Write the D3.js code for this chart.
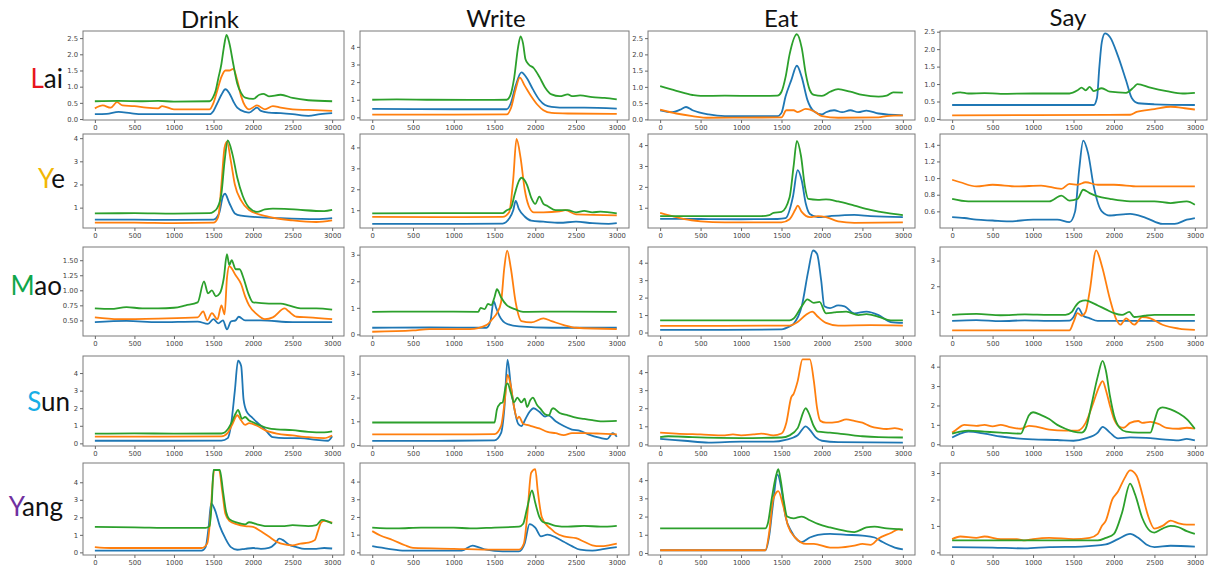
<!DOCTYPE html>
<html>
<head>
<meta charset="utf-8">
<script src="https://cdn.jsdelivr.net/npm/d3@7"></script>
<style>
  body { margin: 0; background: #fff; }
  .tick text { font-family: "DejaVu Sans", sans-serif; font-size: 6.8px; fill: #444; }
  .tick line { stroke: #666; }
  .title { font-family: Lato, "Open Sans", sans-serif; fill: #111; }
</style>
</head>
<body>
<div id="chart"></div>
<script>
const actions = ["Drink", "Write", "Eat", "Say"];
const subjects = ["Lai", "Ye", "Mao", "Sun", "Yang"];
const subjectColors = ["#e8141c", "#f2b705", "#10a64a", "#17aee6", "#7030a0"];
const xTicks = [0, 500, 1000, 1500, 2000, 2500, 3000];
const colors = { blue: "#1f77b4", orange: "#ff7f0e", green: "#2ca02c" };

// ---- Lai ----
const laiDrinkBlue = [[0,0.15],[150,0.16],[300,0.22],[450,0.18],[600,0.15],[1000,0.15],[1450,0.15],[1500,0.25],[1550,0.5],[1600,0.75],[1650,0.92],[1700,0.8],[1750,0.55],[1800,0.35],[1900,0.22],[1950,0.2],[2050,0.35],[2100,0.25],[2200,0.2],[2350,0.18],[2500,0.15],[2700,0.1],[2850,0.15],[3000,0.18]];
const laiDrinkOrange = [[0,0.33],[100,0.42],[200,0.35],[280,0.52],[350,0.42],[500,0.4],[650,0.35],[800,0.33],[850,0.4],[1000,0.3],[1200,0.3],[1450,0.3],[1500,0.5],[1550,0.9],[1600,1.3],[1650,1.5],[1700,1.5],[1750,1.55],[1800,1.2],[1850,0.7],[1900,0.4],[1950,0.3],[2050,0.42],[2150,0.3],[2250,0.4],[2350,0.35],[2500,0.3],[2700,0.28],[3000,0.25]];
const laiDrinkGreen = [[0,0.55],[300,0.56],[600,0.55],[800,0.56],[1000,0.54],[1450,0.55],[1500,0.7],[1530,0.9],[1560,1.25],[1600,1.7],[1630,2.2],[1665,2.6],[1700,2.35],[1750,1.7],[1800,1.1],[1850,0.8],[1900,0.66],[2000,0.62],[2080,0.75],[2130,0.78],[2200,0.7],[2350,0.75],[2500,0.65],[2700,0.58],[3000,0.55]];

const laiWriteBlue = [[0,0.48],[500,0.47],[1000,0.46],[1650,0.46],[1700,0.8],[1760,1.8],[1830,2.55],[1900,2.2],[1970,1.6],[2050,1.0],[2120,0.7],[2200,0.6],[2400,0.55],[2600,0.55],[3000,0.5]];
const laiWriteOrange = [[0,0.15],[1000,0.16],[1650,0.17],[1700,0.5],[1760,1.6],[1810,2.25],[1870,1.8],[1950,1.2],[2030,0.7],[2100,0.4],[2200,0.25],[2400,0.22],[3000,0.2]];
const laiWriteGreen = [[0,1.0],[300,1.02],[700,1.0],[1200,0.99],[1650,1.0],[1690,1.2],[1740,2.2],[1790,4.0],[1820,4.6],[1850,4.2],[1880,3.3],[1920,3.0],[1980,2.8],[2050,2.3],[2120,1.7],[2200,1.3],[2300,1.2],[2400,1.3],[2450,1.2],[2550,1.25],[2700,1.15],[2850,1.1],[3000,1.02]];

const laiEatBlue = [[0,0.28],[150,0.22],[250,0.3],[320,0.38],[400,0.28],[600,0.15],[800,0.1],[1450,0.1],[1500,0.2],[1550,0.7],[1620,1.2],[1690,1.65],[1750,1.3],[1820,0.6],[1900,0.25],[2000,0.15],[2050,0.22],[2150,0.28],[2250,0.22],[2350,0.28],[2450,0.22],[2550,0.27],[2700,0.18],[3000,0.12]];
const laiEatOrange = [[0,0.3],[200,0.18],[400,0.1],[600,0.05],[1500,0.06],[1560,0.28],[1650,0.28],[1700,0.22],[1800,0.32],[1900,0.25],[2000,0.1],[2200,0.05],[2700,0.06],[2800,0.1],[3000,0.12]];
const laiEatGreen = [[0,1.02],[200,0.88],[400,0.75],[500,0.72],[800,0.73],[1200,0.72],[1450,0.73],[1500,0.85],[1550,1.3],[1600,2.0],[1690,2.62],[1750,2.2],[1800,1.4],[1850,0.9],[1900,0.75],[2000,0.72],[2100,0.85],[2200,0.93],[2350,0.85],[2500,0.75],[2700,0.7],[2800,0.73],[2880,0.83],[3000,0.82]];

const laiSayBlue = [[0,0.4],[1000,0.4],[1750,0.4],[1790,0.6],[1820,1.5],[1850,2.2],[1890,2.45],[1950,2.35],[2050,1.8],[2150,1.1],[2220,0.6],[2300,0.45],[2500,0.42],[3000,0.4]];
const laiSayOrange = [[0,0.1],[1000,0.11],[2200,0.12],[2280,0.2],[2500,0.28],[2700,0.35],[2900,0.3],[3000,0.27]];
const laiSayGreen = [[0,0.72],[100,0.76],[200,0.73],[400,0.74],[600,0.72],[1000,0.73],[1450,0.73],[1550,0.82],[1600,0.9],[1650,0.82],[1700,0.92],[1750,0.8],[1850,0.88],[1950,0.78],[2150,0.75],[2250,0.92],[2290,1.0],[2450,0.9],[2650,0.8],[2850,0.73],[3000,0.75]];

// ---- Ye ----
const yeDrinkBlue = [[0,0.48],[500,0.48],[1000,0.47],[1500,0.48],[1570,0.75],[1620,1.5],[1645,1.6],[1700,1.2],[1770,0.75],[1850,0.65],[2000,0.6],[2300,0.55],[2800,0.5],[3000,0.55]];
const yeDrinkOrange = [[0,0.35],[500,0.35],[1000,0.33],[1500,0.35],[1560,0.6],[1600,2.0],[1640,3.6],[1670,3.85],[1720,3.0],[1770,2.0],[1850,1.3],[1950,0.9],[2200,0.6],[2500,0.45],[2800,0.38],[3000,0.45]];
const yeDrinkGreen = [[0,0.75],[500,0.76],[1000,0.74],[1450,0.76],[1500,0.82],[1550,1.0],[1600,1.6],[1640,3.0],[1680,3.9],[1740,3.3],[1800,2.3],[1870,1.5],[1950,1.0],[2050,0.82],[2150,0.92],[2250,0.96],[2400,0.95],[2600,0.9],[2900,0.85],[3000,0.9]];

const yeWriteBlue = [[0,0.35],[800,0.35],[1600,0.36],[1680,0.6],[1730,1.0],[1760,1.45],[1800,1.05],[1870,0.7],[1950,0.5],[2100,0.45],[2300,0.4],[2500,0.45],[2700,0.38],[2900,0.35],[3000,0.38]];
const yeWriteOrange = [[0,0.68],[800,0.67],[1600,0.68],[1680,0.9],[1730,2.5],[1770,4.4],[1820,3.5],[1870,2.0],[1920,1.2],[1980,0.9],[2100,0.9],[2300,0.95],[2370,1.0],[2500,0.8],[3000,0.75]];
const yeWriteGreen = [[0,0.85],[800,0.86],[1600,0.86],[1650,1.0],[1700,1.1],[1750,1.8],[1800,2.4],[1830,2.55],[1900,2.2],[1950,1.6],[2000,1.3],[2050,1.65],[2100,1.3],[2150,1.2],[2250,1.0],[2400,1.0],[2500,0.9],[2600,0.97],[2700,0.9],[2800,0.93],[3000,0.85]];

const yeEatBlue = [[0,0.47],[500,0.46],[1000,0.45],[1450,0.46],[1550,0.5],[1640,1.5],[1700,2.8],[1750,2.3],[1800,1.2],[1850,0.7],[1950,0.55],[2100,0.6],[2400,0.66],[2600,0.6],[3000,0.55]];
const yeEatOrange = [[0,0.75],[150,0.6],[300,0.45],[500,0.35],[800,0.3],[1500,0.3],[1600,0.45],[1670,0.9],[1700,1.1],[1750,0.8],[1850,0.55],[1950,0.6],[2050,0.55],[2200,0.35],[2400,0.28],[3000,0.3]];
const yeEatGreen = [[0,0.6],[500,0.6],[1250,0.6],[1350,0.65],[1400,0.75],[1500,0.8],[1600,1.5],[1650,3.0],[1690,4.2],[1740,3.5],[1790,2.0],[1830,1.42],[1950,1.38],[2050,1.4],[2200,1.3],[2400,1.1],[2600,0.9],[2800,0.75],[3000,0.65]];

const yeSayBlue = [[0,0.53],[150,0.52],[300,0.5],[500,0.49],[700,0.48],[1000,0.5],[1300,0.5],[1450,0.47],[1520,0.6],[1570,1.1],[1620,1.45],[1680,1.3],[1750,0.9],[1850,0.6],[1950,0.55],[2200,0.57],[2400,0.52],[2600,0.45],[2750,0.45],[2900,0.5],[3000,0.52]];
const yeSayOrange = [[0,0.98],[100,0.95],[300,0.9],[500,0.92],[800,0.9],[1100,0.91],[1350,0.87],[1450,0.93],[1550,0.92],[1650,0.95],[1800,0.92],[2000,0.92],[2300,0.9],[2600,0.9],[3000,0.9]];
const yeSayGreen = [[0,0.75],[200,0.72],[600,0.72],[1200,0.72],[1350,0.79],[1450,0.73],[1550,0.75],[1620,0.86],[1700,0.82],[1800,0.78],[1950,0.75],[2200,0.72],[2500,0.72],[2700,0.7],[2900,0.72],[3000,0.68]];

// ---- Mao ----
const maoDrinkBlue = [[0,0.47],[400,0.49],[800,0.47],[1300,0.48],[1430,0.44],[1500,0.52],[1560,0.45],[1620,0.5],[1670,0.35],[1720,0.48],[1780,0.5],[1820,0.56],[1900,0.5],[2100,0.5],[2500,0.47],[3000,0.47]];
const maoDrinkOrange = [[0,0.55],[300,0.52],[800,0.53],[1300,0.55],[1370,0.65],[1420,0.5],[1480,0.62],[1550,0.52],[1600,0.75],[1640,0.6],[1670,1.2],[1700,1.4],[1780,1.25],[1850,1.1],[1900,0.9],[1950,0.75],[2050,0.6],[2150,0.52],[2250,0.55],[2400,0.7],[2450,0.65],[2550,0.56],[2700,0.55],[3000,0.52]];
const maoDrinkGreen = [[0,0.7],[200,0.69],[400,0.72],[600,0.7],[800,0.7],[1000,0.71],[1150,0.75],[1300,0.8],[1380,1.15],[1430,0.95],[1480,1.0],[1530,0.9],[1580,0.95],[1630,1.2],[1670,1.6],[1700,1.42],[1730,1.5],[1780,1.35],[1830,1.35],[1880,1.2],[1940,0.95],[2000,0.8],[2200,0.78],[2350,0.78],[2450,0.75],[2600,0.7],[2800,0.7],[3000,0.68]];

const maoWriteBlue = [[0,0.25],[700,0.26],[1400,0.25],[1450,0.5],[1490,1.25],[1520,1.0],[1560,0.7],[1650,0.4],[1800,0.3],[2200,0.25],[3000,0.25]];
const maoWriteOrange = [[0,0.1],[500,0.15],[700,0.2],[1200,0.2],[1400,0.35],[1480,0.6],[1530,0.8],[1580,1.2],[1620,2.5],[1655,3.15],[1700,2.5],[1760,1.2],[1830,0.5],[1950,0.45],[2100,0.6],[2200,0.5],[2350,0.35],[2500,0.25],[3000,0.2]];
const maoWriteGreen = [[0,0.85],[700,0.86],[1300,0.85],[1330,1.0],[1380,0.95],[1420,1.15],[1460,1.1],[1500,1.4],[1530,1.7],[1580,1.4],[1650,1.1],[1750,0.95],[1850,0.85],[2400,0.86],[3000,0.85]];

const maoEatBlue = [[0,0.15],[800,0.15],[1500,0.18],[1600,0.35],[1650,0.5],[1750,1.5],[1830,3.5],[1890,4.7],[1940,4.5],[1990,3.0],[2030,1.5],[2100,1.4],[2200,1.55],[2280,1.5],[2400,1.1],[2550,1.2],[2700,1.0],[2850,0.6],[3000,0.55]];
const maoEatOrange = [[0,0.38],[800,0.38],[1600,0.4],[1700,0.6],[1800,1.0],[1880,1.2],[1950,0.9],[2050,0.55],[2200,0.4],[2600,0.42],[3000,0.4]];
const maoEatGreen = [[0,0.7],[800,0.7],[1600,0.7],[1650,0.8],[1750,1.5],[1820,1.9],[1900,1.7],[1970,1.75],[2050,1.1],[2150,1.15],[2300,1.2],[2450,1.0],[2550,1.05],[2700,0.9],[2850,0.7],[3000,0.7]];

const maoSayBlue = [[0,0.65],[300,0.68],[600,0.64],[900,0.67],[1200,0.65],[1450,0.66],[1500,0.8],[1560,1.15],[1620,0.85],[1700,0.75],[1800,0.65],[3000,0.65]];
const maoSayOrange = [[0,0.28],[700,0.28],[1450,0.28],[1500,0.6],[1550,0.95],[1600,0.85],[1650,1.0],[1700,1.8],[1780,3.4],[1850,2.8],[1950,1.5],[2030,0.7],[2080,0.5],[2150,0.75],[2250,0.5],[2350,0.8],[2450,0.75],[2600,0.5],[2800,0.35],[3000,0.3]];
const maoSayGreen = [[0,0.88],[300,0.92],[600,0.87],[900,0.9],[1200,0.88],[1400,0.88],[1480,1.0],[1520,1.2],[1580,1.4],[1650,1.45],[1700,1.4],[1800,1.25],[1900,1.1],[2000,0.95],[2100,0.88],[2190,1.0],[2250,0.8],[2380,0.85],[2500,0.88],[3000,0.88]];

// ---- Sun ----
const sunDrinkBlue = [[0,0.15],[800,0.15],[1600,0.16],[1680,0.3],[1720,1.0],[1770,3.0],[1810,4.7],[1850,4.4],[1880,2.5],[1920,1.8],[1980,1.5],[2050,1.2],[2150,0.8],[2250,0.35],[2400,0.3],[2600,0.3],[2800,0.2],[2950,0.15],[3000,0.4]];
const sunDrinkOrange = [[0,0.38],[800,0.38],[1600,0.4],[1680,0.6],[1740,1.1],[1800,1.6],[1850,1.3],[1900,1.05],[1950,1.15],[2050,1.0],[2150,0.75],[2300,0.55],[2500,0.45],[2700,0.35],[2900,0.3],[3000,0.45]];
const sunDrinkGreen = [[0,0.55],[500,0.57],[1000,0.55],[1600,0.56],[1680,0.8],[1730,1.2],[1780,1.7],[1810,1.9],[1860,1.4],[1900,1.5],[1950,1.3],[2000,1.2],[2100,1.0],[2200,0.85],[2300,0.8],[2500,0.75],[2700,0.65],[2900,0.62],[3000,0.68]];

const sunWriteBlue = [[0,0.18],[800,0.18],[1500,0.2],[1580,0.5],[1620,1.5],[1660,3.6],[1700,2.5],[1740,1.6],[1790,0.9],[1830,0.8],[1880,1.1],[1930,1.4],[1980,1.55],[2050,1.4],[2120,1.2],[2160,1.25],[2250,1.0],[2350,0.8],[2450,0.65],[2550,0.6],[2650,0.45],[2800,0.3],[2880,0.25],[2950,0.5],[3000,0.35]];
const sunWriteOrange = [[0,0.45],[800,0.45],[1500,0.46],[1580,0.8],[1630,2.0],[1660,2.95],[1700,2.5],[1740,1.6],[1780,1.1],[1800,1.2],[1850,0.9],[1900,0.85],[1950,0.8],[2050,0.7],[2150,0.55],[2250,0.5],[2350,0.42],[2450,0.5],[2600,0.5],[2800,0.48],[3000,0.45]];
const sunWriteGreen = [[0,0.95],[800,0.95],[1500,0.95],[1530,1.5],[1570,1.75],[1600,1.8],[1640,2.5],[1660,2.6],[1700,2.2],[1740,1.8],[1780,2.0],[1830,1.8],[1870,1.95],[1900,1.6],[1940,1.9],[1970,2.0],[2020,1.7],[2070,1.5],[2120,1.3],[2170,1.25],[2200,1.5],[2220,1.55],[2300,1.35],[2400,1.25],[2500,1.15],[2600,1.1],[2700,1.05],[2800,1.0],[3000,1.02]];

const sunEatBlue = [[0,0.3],[300,0.2],[600,0.1],[1000,0.15],[1400,0.15],[1550,0.25],[1700,0.5],[1800,1.0],[1850,0.8],[1920,0.4],[2000,0.2],[2200,0.12],[3000,0.1]];
const sunEatOrange = [[0,0.65],[200,0.6],[500,0.55],[800,0.5],[900,0.55],[1000,0.5],[1150,0.55],[1250,0.6],[1400,0.5],[1500,0.6],[1560,1.2],[1620,2.6],[1650,2.8],[1700,3.5],[1760,4.7],[1850,4.7],[1900,3.5],[1940,2.0],[1980,1.3],[2050,1.2],[2200,1.25],[2300,1.38],[2400,1.3],[2500,1.2],[2600,1.0],[2700,0.9],[2800,0.85],[2900,0.9],[3000,0.8]];
const sunEatGreen = [[0,0.4],[100,0.45],[400,0.4],[1000,0.35],[1500,0.38],[1600,0.5],[1700,0.9],[1800,2.0],[1830,1.8],[1900,1.0],[1950,0.7],[2100,0.65],[2300,0.55],[2500,0.45],[2700,0.4],[3000,0.38]];

const sunSayBlue = [[0,0.35],[100,0.55],[200,0.65],[400,0.55],[600,0.4],[800,0.3],[1000,0.25],[1300,0.22],[1500,0.18],[1650,0.3],[1800,0.6],[1860,0.9],[1950,0.6],[2050,0.3],[2200,0.35],[2400,0.33],[2600,0.25],[2800,0.2],[2900,0.28],[3000,0.2]];
const sunSayOrange = [[0,0.6],[50,0.75],[150,1.0],[300,0.95],[400,1.0],[500,0.92],[600,1.0],[700,0.9],[850,0.8],[950,0.95],[1050,0.9],[1200,0.75],[1400,0.7],[1550,0.7],[1650,1.1],[1750,2.2],[1820,3.0],[1860,3.25],[1900,2.8],[1950,2.0],[2000,1.3],[2070,0.9],[2120,0.85],[2200,1.1],[2300,1.2],[2350,1.1],[2450,1.15],[2550,1.05],[2650,0.85],[2800,0.8],[2900,0.85],[3000,0.8]];
const sunSayGreen = [[0,0.55],[100,0.65],[200,0.7],[400,0.65],[600,0.6],[850,0.55],[900,1.0],[950,1.5],[1000,1.65],[1100,1.5],[1200,1.3],[1300,1.0],[1400,0.8],[1500,0.65],[1600,0.6],[1650,0.8],[1720,2.0],[1800,3.5],[1860,4.3],[1900,3.8],[1950,2.5],[2000,1.5],[2070,0.85],[2150,0.65],[2300,0.6],[2450,0.6],[2500,1.2],[2550,1.8],[2600,1.9],[2700,1.8],[2800,1.6],[2900,1.3],[3000,0.8]];

// ---- Yang ----
const yangDrinkBlue = [[0,0.1],[700,0.1],[1350,0.1],[1400,0.3],[1440,1.5],[1470,2.8],[1520,2.4],[1580,1.5],[1650,0.8],[1720,0.3],[1800,0.15],[1900,0.2],[2000,0.25],[2100,0.2],[2200,0.25],[2280,0.5],[2330,0.78],[2380,0.7],[2450,0.45],[2550,0.3],[2650,0.2],[2800,0.2],[2900,0.25],[3000,0.22]];
const yangDrinkOrange = [[0,0.3],[200,0.25],[800,0.25],[1350,0.25],[1420,0.5],[1460,2.0],[1490,4.0],[1510,4.7],[1570,4.7],[1610,3.5],[1650,2.2],[1700,1.8],[1800,1.6],[1900,1.5],[2000,1.45],[2100,1.2],[2200,0.9],[2300,0.6],[2400,0.45],[2500,0.4],[2600,0.5],[2700,0.55],[2780,0.7],[2820,1.2],[2860,1.7],[2900,1.8],[3000,1.7]];
const yangDrinkGreen = [[0,1.45],[500,1.43],[1000,1.4],[1400,1.4],[1450,1.5],[1480,3.0],[1500,4.7],[1580,4.7],[1620,3.5],[1660,2.3],[1700,1.9],[1800,1.7],[1900,1.6],[1950,1.72],[2050,1.6],[2150,1.5],[2400,1.5],[2500,1.55],[2700,1.5],[2800,1.55],[2870,1.85],[2950,1.75],[3000,1.65]];

const yangWriteBlue = [[0,0.35],[200,0.2],[400,0.1],[1100,0.1],[1230,0.38],[1300,0.3],[1400,0.15],[1600,0.05],[1800,0.05],[1870,0.5],[1930,1.6],[2000,1.4],[2070,0.9],[2150,1.0],[2250,0.85],[2350,0.6],[2450,0.35],[2550,0.15],[2700,0.1],[2850,0.2],[3000,0.3]];
const yangWriteOrange = [[0,1.2],[100,0.95],[250,0.7],[400,0.4],[500,0.25],[1000,0.2],[1500,0.15],[1800,0.15],[1860,0.5],[1900,2.0],[1950,4.5],[2000,4.7],[2030,3.5],[2080,2.0],[2150,1.5],[2200,1.3],[2250,1.1],[2350,0.9],[2500,0.8],[2600,0.6],[2700,0.4],[2800,0.35],[2900,0.4],[3000,0.5]];
const yangWriteGreen = [[0,1.4],[300,1.35],[600,1.4],[1000,1.4],[1200,1.35],[1500,1.4],[1800,1.45],[1850,1.6],[1900,2.5],[1960,3.5],[2000,2.8],[2050,2.0],[2100,1.7],[2150,1.65],[2250,1.5],[2400,1.45],[2600,1.5],[2800,1.45],[3000,1.5]];

const yangEatBlue = [[0,0.15],[800,0.15],[1300,0.15],[1350,1.0],[1390,2.5],[1450,4.3],[1500,3.5],[1550,2.0],[1620,1.2],[1700,0.7],[1750,0.6],[1850,0.85],[1950,1.0],[2100,1.05],[2300,1.0],[2500,0.95],[2650,0.85],[2750,0.6],[2900,0.3],[3000,0.2]];
const yangEatOrange = [[0,0.15],[800,0.15],[1300,0.15],[1350,1.2],[1390,2.8],[1420,3.2],[1460,3.4],[1520,2.6],[1580,1.5],[1680,0.8],[1800,0.5],[1900,0.5],[2100,0.3],[2200,0.3],[2400,0.4],[2500,0.5],[2600,0.45],[2700,0.8],[2850,1.1],[2950,1.3],[3000,1.25]];
const yangEatGreen = [[0,1.35],[800,1.35],[1300,1.35],[1330,1.6],[1380,3.0],[1430,4.2],[1460,4.6],[1490,4.0],[1530,2.8],[1570,2.0],[1650,1.9],[1750,2.0],[1850,1.8],[1950,1.6],[2100,1.4],[2300,1.2],[2400,1.15],[2550,1.4],[2650,1.45],[2800,1.35],[3000,1.3]];

const yangSayBlue = [[0,0.2],[500,0.18],[900,0.15],[1200,0.2],[1600,0.22],[1900,0.3],[2050,0.5],[2200,0.7],[2300,0.55],[2400,0.3],[2500,0.2],[2700,0.25],[3000,0.22]];
const yangSayOrange = [[0,0.5],[100,0.6],[300,0.55],[400,0.6],[600,0.5],[800,0.5],[900,0.45],[1000,0.5],[1200,0.55],[1500,0.5],[1700,0.55],[1800,0.7],[1850,1.0],[1900,1.2],[1980,2.0],[2050,2.3],[2130,2.8],[2200,3.1],[2280,2.9],[2350,2.2],[2420,1.4],[2500,0.9],[2600,1.0],[2700,1.2],[2800,1.1],[2900,1.05],[3000,1.05]];
const yangSayGreen = [[0,0.45],[600,0.45],[1200,0.45],[1800,0.45],[1900,0.55],[2000,0.7],[2100,1.5],[2200,2.6],[2260,2.2],[2350,1.3],[2450,0.8],[2500,0.75],[2600,0.9],[2700,1.0],[2800,0.95],[2900,0.8],[3000,0.7]];

// y ranges and ticks, per panel (row-major)
const yRanges = [
  [[-0.03, 2.72], [-0.15, 4.9], [-0.02, 2.72], [-0.03, 2.52]],
  [[0.12, 4.18], [0.15, 4.64], [0.03, 4.53], [0.40, 1.53]],
  [[0.24, 1.72], [-0.06, 3.29], [-0.2, 4.9], [0.06, 3.53]],
  [[-0.15, 4.97], [-0.04, 3.75], [-0.09, 4.89], [-0.09, 4.55]],
  [[-0.15, 5.1], [-0.15, 5.05], [-0.11, 4.94], [-0.1, 3.38]]
];
const halfTicks = [0, 0.5, 1, 1.5, 2, 2.5];
const yTicks = [
  [halfTicks, [0,1,2,3,4], halfTicks, halfTicks],
  [[1,2,3,4], [1,2,3,4], [1,2,3,4], [0.6,0.8,1.0,1.2,1.4]],
  [[0.5,0.75,1.0,1.25,1.5], [0,1,2,3], [0,1,2,3,4], [1,2,3]],
  [[0,1,2,3,4], [0,1,2,3], [0,1,2,3,4], [0,1,2,3,4]],
  [[0,1,2,3,4], [0,1,2,3,4], [0,1,2,3,4], [0,1,2,3]]
];
const yFormats = [
  [".1f", "d", ".1f", ".1f"],
  ["d", "d", "d", ".1f"],
  [".2f", "d", "d", "d"],
  ["d", "d", "d", "d"],
  ["d", "d", "d", "d"]
];
const series = [
  [[laiDrinkBlue, laiDrinkOrange, laiDrinkGreen], [laiWriteBlue, laiWriteOrange, laiWriteGreen], [laiEatBlue, laiEatOrange, laiEatGreen], [laiSayBlue, laiSayOrange, laiSayGreen]],
  [[yeDrinkBlue, yeDrinkOrange, yeDrinkGreen], [yeWriteBlue, yeWriteOrange, yeWriteGreen], [yeEatBlue, yeEatOrange, yeEatGreen], [yeSayBlue, yeSayOrange, yeSayGreen]],
  [[maoDrinkBlue, maoDrinkOrange, maoDrinkGreen], [maoWriteBlue, maoWriteOrange, maoWriteGreen], [maoEatBlue, maoEatOrange, maoEatGreen], [maoSayBlue, maoSayOrange, maoSayGreen]],
  [[sunDrinkBlue, sunDrinkOrange, sunDrinkGreen], [sunWriteBlue, sunWriteOrange, sunWriteGreen], [sunEatBlue, sunEatOrange, sunEatGreen], [sunSayBlue, sunSayOrange, sunSayGreen]],
  [[yangDrinkBlue, yangDrinkOrange, yangDrinkGreen], [yangWriteBlue, yangWriteOrange, yangWriteGreen], [yangEatBlue, yangEatOrange, yangEatGreen], [yangSayBlue, yangSayOrange, yangSayGreen]]
];

// layout
const width = 1210, height = 569;
const colBands = [[83, 344], [360, 629], [648, 915], [940, 1207]];
const rowBands = [[31, 120], [134, 228], [247, 336], [356, 446], [463, 555]];
const titlePos = [[210, 28], [496, 27], [781, 27], [1068, 26]];
const labelPos = [[63, 88], [65, 188], [62, 295], [70, 411], [63, 516]];

const svg = d3.select("#chart").append("svg")
  .attr("width", width).attr("height", height);

const seriesColors = [colors.blue, colors.orange, colors.green];

rowBands.forEach((rb, r) => {
  colBands.forEach((cb, c) => {
    const x = d3.scaleLinear().domain([-150, 3150]).range(cb);
    const y = d3.scaleLinear().domain(yRanges[r][c]).range([rb[1], rb[0]]);
    const g = svg.append("g");

    const line = d3.line().x(d => x(d[0])).y(d => y(d[1])).curve(d3.curveMonotoneX);
    series[r][c].forEach((s, i) => {
      g.append("path").datum(s)
        .attr("d", line)
        .attr("fill", "none")
        .attr("stroke", seriesColors[i])
        .attr("stroke-width", 1.8)
        .attr("stroke-linejoin", "round");
    });

    // frame
    g.append("rect")
      .attr("x", cb[0]).attr("y", rb[0])
      .attr("width", cb[1] - cb[0]).attr("height", rb[1] - rb[0])
      .attr("fill", "none").attr("stroke", "#7a7a7a").attr("stroke-width", 1);

    const xAxis = d3.axisBottom(x).tickValues(xTicks).tickSize(3).tickPadding(2).tickFormat(d3.format("d"));
    g.append("g").attr("transform", `translate(0,${rb[1]})`).call(xAxis)
      .call(a => a.select(".domain").remove());

    const yAxis = d3.axisLeft(y).tickValues(yTicks[r][c]).tickSize(3).tickPadding(2).tickFormat(d3.format(yFormats[r][c]));
    g.append("g").attr("transform", `translate(${cb[0]},0)`).call(yAxis)
      .call(a => a.select(".domain").remove());
  });
});

// column titles
actions.forEach((a, i) => {
  svg.append("text").attr("class", "title")
    .attr("x", titlePos[i][0]).attr("y", titlePos[i][1])
    .attr("text-anchor", "middle")
    .attr("font-size", 24)
    .text(a);
});

// row labels, first letter coloured
subjects.forEach((s, i) => {
  const t = svg.append("text").attr("class", "title")
    .attr("x", labelPos[i][0]).attr("y", labelPos[i][1])
    .attr("text-anchor", "end")
    .attr("font-size", 26);
  t.append("tspan").attr("fill", subjectColors[i]).text(s[0]);
  t.append("tspan").text(s.slice(1));
});
</script>
</body>
</html>
